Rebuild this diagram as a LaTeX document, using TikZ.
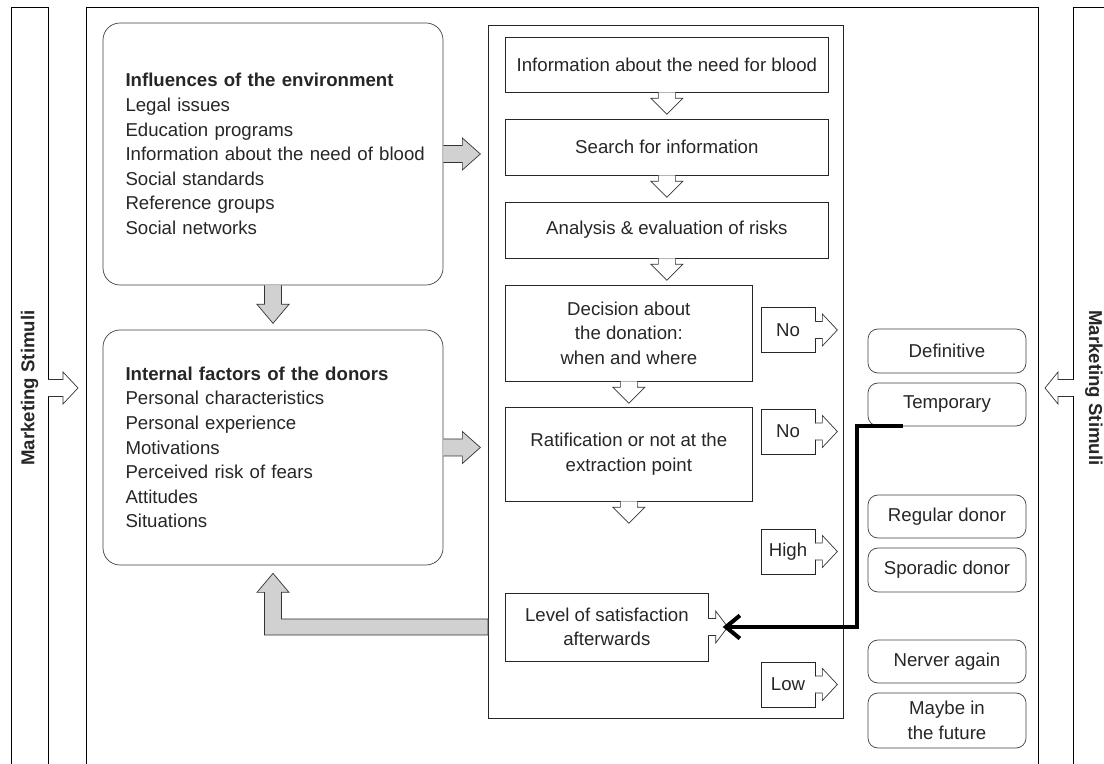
\documentclass[tikz,border=0pt]{standalone}
\usepackage{fontspec}
\setmainfont{Liberation Sans}
\usetikzlibrary{calc,arrows.meta}

\newcommand*{\DiagramFont}{\fontsize{10.6}{14}\selectfont}
\newcommand*{\BlockArrow}[5][white]{% #1 = fill, #2 = start, #3 = angle, #4 = shaft length, #5 = head length
  \begin{scope}[shift={(#2)},rotate=#3]
    \filldraw[fill=#1,draw=black!80] (0,.17) -- (#4,.17) -- (#4,.32) -- ({#4+#5},0)
      -- (#4,-.32) -- (#4,-.17) -- (0,-.17);
  \end{scope}%
}
\newcommand*{\OpenArrow}[4]{% same, but the box edge is opened under the shaft
  \begin{scope}[shift={(#1)},rotate=#2]
    \fill[white] (-.03,.155) rectangle (.02,-.155);
  \end{scope}%
  \BlockArrow{#1}{#2}{#3}{#4}%
}

\begin{document}
\begin{tikzpicture}[
    every node/.style={text=black!85, font=\DiagramFont},
    factorbox/.style={draw=black!75, rounded corners=.34cm, minimum width=6.8cm,
      text width=5.9cm, inner xsep=.45cm, align=left},
    flowbox/.style={draw=black!85, inner sep=0, align=center, anchor=west},
    answer/.style={draw=black!85, minimum width=1.08cm, minimum height=.9cm, inner sep=0},
    outcome/.style={draw=black!75, rounded corners=.2cm, minimum width=3.16cm,
      inner sep=0, align=center},
    stimuli/.style={font=\DiagramFont\bfseries},
    feedback line/.style={line width=2.3pt, draw=black, -{Straight Barb[length=.28cm,width=.46cm]}}
  ]
    \useasboundingbox (0,0) rectangle (22.08,-15.28);

    % strips and frames, open at the bottom
    \draw (0.22,-15.5) |- (0.96,-0.14) -- (0.96,-15.5);
    \draw (1.72,-15.5) |- (20.76,-0.14) -- (20.76,-15.5);
    \draw (21.46,-15.5) |- (22.3,-0.14);
    \node[draw=black!85, minimum width=7.1cm, minimum height=13.86cm, inner sep=0,
      anchor=north west] (process) at (9.76,-0.50) {};

    \node[stimuli, rotate=90] (stimulileft) at (0.59,-7.76) {Marketing Stimuli};
    \node[stimuli, rotate=-90] (stimuliright) at (21.88,-7.76) {Marketing Stimuli};
    \coordinate (stimuliin) at (0.96,-7.76);
    \coordinate (stimuliout) at (21.46,-7.76);
    \OpenArrow{stimuliin}{0}{.30}{.30}
    \OpenArrow{stimuliout}{180}{.30}{.26}

    % factors
    \node[factorbox, minimum height=5.24cm] (environment) at (5.46,-3.08) {%
      \textbf{Influences of the environment}\\Legal issues\\Education programs\\
      \mbox{Information about the need of blood}\\Social standards\\Reference groups\\Social networks};
    \node[factorbox, minimum height=4.70cm] (internal) at (5.46,-8.95) {%
      \textbf{Internal factors of the donors}\\Personal characteristics\\Personal experience\\
      Motivations\\Perceived risk of fears\\Attitudes\\Situations};

    \BlockArrow[black!18]{environment.east}{0}{.38}{.36}
    \BlockArrow[black!18]{internal.east}{0}{.38}{.36}
    \BlockArrow[black!18]{environment.south}{-90}{.38}{.38}

    % decision process
    \foreach \name/\y/\w/\h/\txt in {
        need/-1.29/6.46/1.10/Information about the need for blood,
        search/-2.94/6.46/1.12/Search for information,
        analysis/-4.60/6.46/1.12/Analysis \& evaluation of risks,
        decision/-6.66/4.94/1.92/{Decision about\\the donation:\\when and where},
        ratification/-9.08/4.94/1.88/{Ratification or not at the\\extraction point},
        satisfaction/-12.54/4.06/1.36/{Level of satisfaction\\afterwards}} {
      \node[flowbox, minimum width=\w cm, minimum height=\h cm] (\name) at (10.10,\y) {\txt};
    }
    \foreach \name in {need,search,analysis,decision,ratification} {
      \BlockArrow{\name.south}{-90}{.12}{.32}
    }
    \OpenArrow{satisfaction.east}{0}{.14}{.24}

    \foreach \name/\y/\txt in {nodecision/-6.60/No, noratify/-8.63/No, high/-11.03/High, low/-13.69/Low} {
      \node[answer] (\name) at (15.76,\y) {\txt};
      \OpenArrow{\name.east}{0}{.14}{.30}
    }

    % outcomes
    \foreach \name/\y/\h/\txt in {
        definitive/-7.02/.88/Definitive,
        temporary/-8.09/.86/Temporary,
        regular/-10.33/.86/Regular donor,
        sporadic/-11.40/.88/Sporadic donor,
        never/-13.23/.86/Nerver again,
        maybe/-14.41/1.10/{Maybe in\\the future}} {
      \node[outcome, minimum height=\h cm] (\name) at (18.94,\y) {\txt};
    }

    % loops back
    \coordinate (tempfoot) at ($(temporary.south)+(-.88,0)$);
    \coordinate (sattip) at ($(satisfaction.east)+(.28,0)$);
    \draw[feedback line] (tempfoot) -- ++(-.92,0) |- (sattip);

    \coordinate (processin) at (process.west |- satisfaction.center);
    \filldraw[fill=black!18, draw=black!80] ($(processin)+(0,.16)$) -| ($(internal.south)+(.17,-.54)$)
      -- ++(.15,0) -- ($(internal.south)+(0,-.16)$) -- ++(-.32,-.38) -- ++(.15,0)
      |- ($(processin)+(0,-.16)$) -- cycle;
\end{tikzpicture}
\end{document}
